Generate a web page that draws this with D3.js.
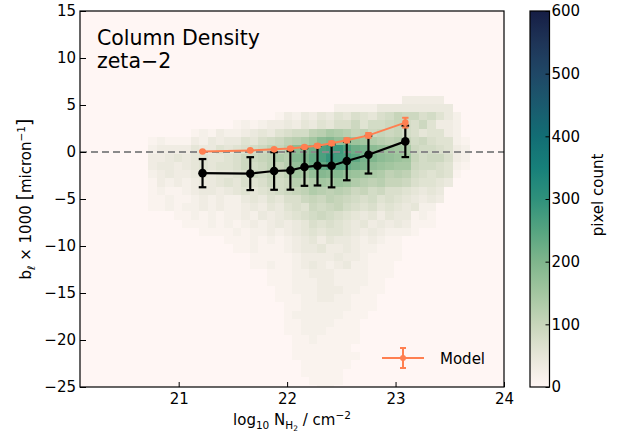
<!DOCTYPE html>
<html>
<head>
<meta charset="utf-8">
<script src="https://cdn.jsdelivr.net/npm/d3@7"></script>
<style>
  body { margin: 0; background: #fff; }
  svg { display: block; }
  text { font-family: "DejaVu Sans", sans-serif; fill: #000; }
</style>
</head>
<body>
<svg id="chart" width="627" height="434"></svg>
<script>
// 2d histogram: each char is a count / 10 (base 36), rows from top (b = 6) downwards
const binX0 = 20.72, binDX = 0.078;
const binY0 = 6.0, binDY = 0.88;
const countRows = [
  "00000000000000000000000000000033333000",
  "00000000000000000000002222244444444400",
  "00000000000000013243546576578a99786420",
  "00000000001212334354657796889a87963320",
  "0000012132234546788bcedcab9a9a87566320",
  "1211132434465789bcdfijhigfdcbca8976621",
  "23333544656789bacijmqrspmlihgfe9887632",
  "3345456556799abdcjknqtrqolkihgfa899732",
  "34434565667989bachjmnponlkhgfee9887621",
  "23433454556798a9bfehjijhgfedbcb8767610",
  "13232344565767989cbdfegfdcbcaa97665400",
  "12112344345656789abdcbcb9a897765454000",
  "1121123232245465779a9ba987867654343000",
  "1121223232234354676989a876756545220000",
  "00011212122324345678987654535441210000",
  "00001112121232343457676545343431110000",
  "00000011112122323456566543432221000000",
  "00000000011121212345354432321100000000",
  "00000000001121112344533432211100000000",
  "00000000000011111233334332111100000000",
  "00000000000011211234323422111000000000",
  "00000000000000111223332222111000000000",
  "00000000000000111222332222110000000000",
  "00000000000000011222333221110000000000",
  "00000000000000011122332211100000000000",
  "00000000000000001122222211100000000000",
  "00000000000000001222222111000000000000",
  "00000000000000001122221110000000000000",
  "00000000000000001122211110000000000000",
  "00000000000000000112111110000000000000",
  "00000000000000000111111100000000000000",
  "00000000000000000111111110000000000000",
  "00000000000000000011111100000000000000",
  "00000000000000000011111000000000000000",
  "00000000000000000001111000000000000000",
  "00000000000000000000110000000000000000"
];
const levels = "0123456789abcdefghijklmnopqrstuvwxyz";

// binned medians
const logN = [21.22, 21.66, 21.88, 22.03, 22.16, 22.28, 22.41, 22.55, 22.75, 23.09];
const bObs = [-2.25, -2.3, -2.02, -1.96, -1.6, -1.46, -1.46, -0.96, -0.29, 1.13];
const bObsErr = [1.5, 1.75, 2.0, 2.05, 2.0, 2.1, 2.3, 2.05, 2.0, 1.67];
const bModel = [0.06, 0.17, 0.28, 0.38, 0.53, 0.67, 0.92, 1.24, 1.77, 3.12];
const bModelErr = [0.05, 0.05, 0.08, 0.1, 0.12, 0.15, 0.18, 0.2, 0.25, 0.52];

const xTicks = [21, 22, 23, 24];
const yTicks = [-25, -20, -15, -10, -5, 0, 5, 10, 15];
const cbarTicks = [0, 100, 200, 300, 400, 500, 600];

// tempo-like colormap
const cmap = ["#fff6f4", "#e6e6d8", "#c7d5ba", "#a3c6a0", "#7fb58c", "#55a480", "#2f917b",
              "#17807a", "#126d74", "#1a5a6e", "#1f4766", "#1e3457", "#151d44"];
const color = d3.scaleLinear()
  .domain(cmap.map((c, i) => i * 600 / (cmap.length - 1)))
  .range(cmap).clamp(true);

const svg = d3.select("#chart");
const pL = 80, pR = 504, pT = 11, pB = 387;
const x = d3.scaleLinear().domain([20.09, 24.0]).range([pL, pR]);
const y = d3.scaleLinear().domain([-25, 15]).range([pB, pT]);

svg.append("clipPath").attr("id", "clip").append("rect")
  .attr("x", pL).attr("y", pT).attr("width", pR - pL).attr("height", pB - pT);

const plot = svg.append("g").attr("clip-path", "url(#clip)");
plot.append("rect").attr("x", pL).attr("y", pT)
  .attr("width", pR - pL).attr("height", pB - pT).attr("fill", color(0));

const cells = [];
countRows.forEach((row, r) => {
  row.split("").forEach((ch, c) => {
    const n = levels.indexOf(ch) * 10;
    if (n > 0) cells.push({ x0: binX0 + c * binDX, y0: binY0 - r * binDY, n });
  });
});
plot.append("g").attr("shape-rendering", "crispEdges")
  .selectAll("rect").data(cells).join("rect")
  .attr("x", d => x(d.x0))
  .attr("y", d => y(d.y0))
  .attr("width", d => x(d.x0 + binDX) - x(d.x0))
  .attr("height", d => y(d.y0 - binDY) - y(d.y0))
  .attr("fill", d => color(d.n));

// zero line
plot.append("line")
  .attr("x1", x(20.09)).attr("x2", x(24.0))
  .attr("y1", y(0)).attr("y2", y(0))
  .attr("stroke", "#8a8a8a").attr("stroke-width", 1.8)
  .attr("stroke-dasharray", "7,4");

function errorSeries(g, xs, ys, errs, col, r, lw, cap) {
  const pts = xs.map((v, i) => ({ x: v, y: ys[i], e: errs[i] }));
  g.append("path").datum(pts)
    .attr("fill", "none").attr("stroke", col).attr("stroke-width", lw)
    .attr("d", d3.line().x(d => x(d.x)).y(d => y(d.y)));
  const eb = g.append("g").attr("stroke", col).attr("stroke-width", lw);
  eb.selectAll("line.v").data(pts).join("line").attr("class", "v")
    .attr("x1", d => x(d.x)).attr("x2", d => x(d.x))
    .attr("y1", d => y(d.y - d.e)).attr("y2", d => y(d.y + d.e));
  eb.selectAll("line.t").data(pts).join("line").attr("class", "t")
    .attr("x1", d => x(d.x) - cap).attr("x2", d => x(d.x) + cap)
    .attr("y1", d => y(d.y + d.e)).attr("y2", d => y(d.y + d.e));
  eb.selectAll("line.b").data(pts).join("line").attr("class", "b")
    .attr("x1", d => x(d.x) - cap).attr("x2", d => x(d.x) + cap)
    .attr("y1", d => y(d.y - d.e)).attr("y2", d => y(d.y - d.e));
  g.selectAll("circle").data(pts).join("circle")
    .attr("cx", d => x(d.x)).attr("cy", d => y(d.y)).attr("r", r).attr("fill", col);
}
errorSeries(plot.append("g"), logN, bObs, bObsErr, "#000", 4.3, 2.2, 3.8);
errorSeries(plot.append("g"), logN, bModel, bModelErr, "#ff7f50", 3.3, 2, 3.2);

// axes
const fontAxis = g => g.attr("font-family", "DejaVu Sans, sans-serif").attr("font-size", 15)
  .call(g => g.select(".domain").remove())
  .call(g => g.selectAll(".tick line").attr("stroke", "#000").attr("stroke-width", 1));

svg.append("g").attr("transform", `translate(0,${pB})`)
  .call(d3.axisBottom(x).tickValues(xTicks).tickFormat(d3.format("d"))
    .tickSizeInner(-5).tickSizeOuter(0).tickPadding(6))
  .call(fontAxis);
svg.append("g").attr("transform", `translate(${pL},0)`)
  .call(d3.axisLeft(y).tickValues(yTicks).tickSizeInner(-6).tickSizeOuter(0).tickPadding(4))
  .call(fontAxis);

svg.append("rect").attr("x", pL).attr("y", pT)
  .attr("width", pR - pL).attr("height", pB - pT)
  .attr("fill", "none").attr("stroke", "#000").attr("stroke-width", 1.2);

// title
svg.append("text").attr("x", 97).attr("y", 45).attr("font-size", 20.5).text("Column Density");
svg.append("text").attr("x", 97).attr("y", 68).attr("font-size", 20.5).text("zeta−2");

// legend
const lg = svg.append("g").attr("stroke", "#ff7f50").attr("stroke-width", 2);
lg.append("line").attr("x1", 382).attr("x2", 424).attr("y1", 358).attr("y2", 358);
lg.append("line").attr("x1", 403).attr("x2", 403).attr("y1", 348).attr("y2", 368);
lg.append("line").attr("x1", 400).attr("x2", 406).attr("y1", 348).attr("y2", 348);
lg.append("line").attr("x1", 400).attr("x2", 406).attr("y1", 368).attr("y2", 368);
svg.append("circle").attr("cx", 403).attr("cy", 358).attr("r", 3).attr("fill", "#ff7f50");
svg.append("text").attr("x", 440).attr("y", 364).attr("font-size", 15).text("Model");

// axis labels
const xl = svg.append("text").attr("x", 292).attr("y", 425).attr("text-anchor", "middle").attr("font-size", 15);
xl.append("tspan").text("log");
xl.append("tspan").attr("font-size", 10.5).attr("dy", 4).text("10");
xl.append("tspan").attr("dy", -4).text(" N");
xl.append("tspan").attr("font-size", 10.5).attr("dy", 4).text("H");
xl.append("tspan").attr("font-size", 7.5).attr("dy", 2).text("2");
xl.append("tspan").attr("dy", -6).text(" / cm");
xl.append("tspan").attr("font-size", 10.5).attr("dy", -6).text("−2");

const yl = svg.append("text").attr("transform", "translate(31,199) rotate(-90)")
  .attr("text-anchor", "middle").attr("font-size", 15);
yl.append("tspan").text("b");
yl.append("tspan").attr("font-size", 10.5).attr("dy", 3.5).text("ℓ");
yl.append("tspan").attr("dy", -3.5).text(" × 1000 ");
yl.append("tspan").attr("font-size", 19).text("[");
yl.append("tspan").text("micron");
yl.append("tspan").attr("font-size", 10.5).attr("dy", -6).text("−1");
yl.append("tspan").attr("font-size", 19).attr("dy", 6).text("]");

// colorbar
const cbX = 530, cbW = 19.5;
const cScale = d3.scaleLinear().domain([0, 600]).range([pB, pT]);
const grad = svg.append("defs").append("linearGradient").attr("id", "cbar")
  .attr("x1", 0).attr("x2", 0).attr("y1", 1).attr("y2", 0);
d3.range(0, 601, 25).forEach(v => {
  grad.append("stop").attr("offset", v / 600).attr("stop-color", color(v));
});
svg.append("rect").attr("x", cbX).attr("y", pT).attr("width", cbW).attr("height", pB - pT)
  .attr("fill", "url(#cbar)").attr("stroke", "#000").attr("stroke-width", 1.2);
svg.append("g").attr("transform", `translate(${cbX + cbW},0)`)
  .call(d3.axisRight(cScale).tickValues(cbarTicks).tickSizeInner(-4).tickSizeOuter(0).tickPadding(2))
  .call(fontAxis);
svg.append("text").attr("transform", "translate(603,195) rotate(-90)")
  .attr("text-anchor", "middle").attr("font-size", 15).text("pixel count");
</script>
</body>
</html>
